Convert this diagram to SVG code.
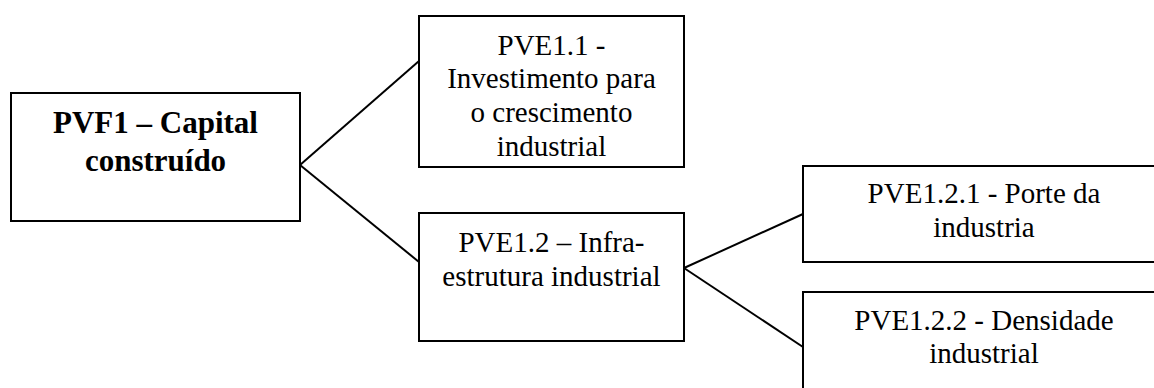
<svg xmlns="http://www.w3.org/2000/svg" width="1154" height="388" viewBox="0 0 1154 388">
<style>
.box{fill:#fff;stroke:#000;stroke-width:2}
.c{stroke:#000;stroke-width:2;fill:none}
</style>
<rect width="1154" height="388" fill="#fff"/>
<g id="connectors">
<line class="c" x1="300" y1="165" x2="419" y2="61"/>
<line class="c" x1="300" y1="165" x2="419" y2="262"/>
<line class="c" x1="684" y1="268" x2="803" y2="214"/>
<line class="c" x1="684" y1="268" x2="803" y2="347"/>
</g>
<g font-family="Liberation Serif, DejaVu Serif, serif" font-size="29" fill="#000" text-anchor="middle">
<g id="pvf1">
<rect class="box" x="11" y="93" width="289" height="128"/>
<text x="155.5" y="133" font-weight="bold" font-size="31">PVF1 – Capital</text>
<text x="155.5" y="171" font-weight="bold" font-size="31">construído</text>
</g>
<g id="pve1_1">
<rect class="box" x="419" y="16" width="265" height="151"/>
<text x="551.5" y="55">PVE1.1 -</text>
<text x="551.5" y="88">Investimento para</text>
<text x="551.5" y="122">o crescimento</text>
<text x="551.5" y="156">industrial</text>
</g>
<g id="pve1_2">
<rect class="box" x="419" y="213" width="265" height="128"/>
<text x="551.5" y="252">PVE1.2 – Infra-</text>
<text x="551.5" y="286">estrutura industrial</text>
</g>
<g id="pve1_2_1">
<rect class="box" x="803" y="166" width="362" height="96"/>
<text x="984" y="203">PVE1.2.1 - Porte da</text>
<text x="984" y="237">industria</text>
</g>
<g id="pve1_2_2">
<rect class="box" x="803" y="292" width="362" height="120"/>
<text x="984" y="330">PVE1.2.2 - Densidade</text>
<text x="984" y="363">industrial</text>
</g>
</g>
</svg>
